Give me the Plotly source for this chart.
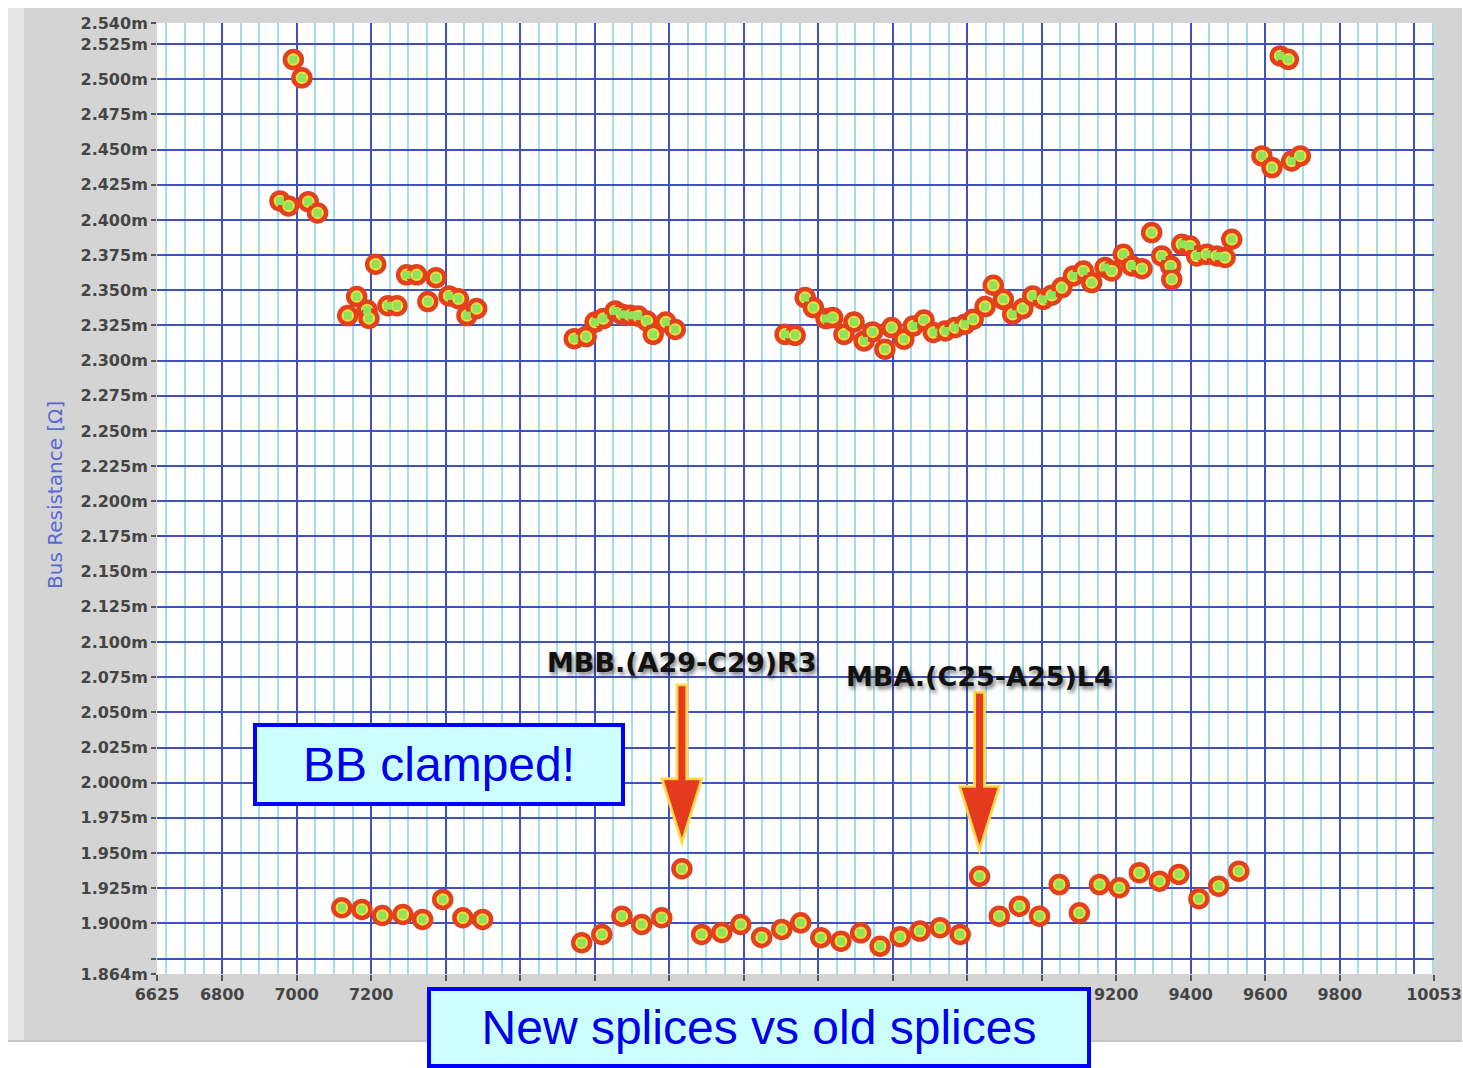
import plotly.graph_objects as go

# ---------------- data ----------------
# upper band: splice resistance, old measurements
upper_x = [6955, 6978, 6991, 7014, 7031, 7056, 7137, 7161, 7189, 7194, 7212, 7245, 7269,
           7295, 7322, 7352, 7374, 7409, 7434, 7457, 7483,
           7745, 7777, 7801, 7823, 7855, 7873, 7895, 7917, 7940, 7957, 7991, 8016,
           8311, 8338, 8365, 8387, 8421, 8439, 8469, 8496, 8523, 8546, 8579, 8597,
           8630, 8655, 8684, 8709, 8741, 8767, 8794, 8816, 8848, 8870, 8897, 8922,
           8949, 8976, 9004, 9027, 9054, 9085, 9112, 9134, 9170, 9188, 9219, 9242,
           9269, 9295, 9322, 9346, 9349, 9376, 9398, 9416, 9443, 9470, 9492, 9510,
           9591, 9618, 9640, 9662, 9671, 9694]
upper_y = [2.4135, 2.4100, 2.5140, 2.5010, 2.4130, 2.4050, 2.3320, 2.3455, 2.3360, 2.3300, 2.3685, 2.3390, 2.3390,
           2.3610, 2.3610, 2.3420, 2.3590, 2.3460, 2.3440, 2.3320, 2.3370,
           2.3156, 2.3171, 2.3274, 2.3299, 2.3353, 2.3329, 2.3322, 2.3317, 2.3282, 2.3187, 2.3274, 2.3222,
           2.3187, 2.3180, 2.3448, 2.3377, 2.3299, 2.3306, 2.3187, 2.3275, 2.3140, 2.3204, 2.3081, 2.3235,
           2.3152, 2.3246, 2.3289, 2.3200, 2.3211, 2.3235, 2.3259, 2.3294, 2.3384, 2.3536, 2.3436, 2.3330,
           2.3370, 2.3460, 2.3436, 2.3465, 2.3519, 2.3602, 2.3637, 2.3555, 2.3662, 2.3637, 2.3756, 2.3673,
           2.3654, 2.3910, 2.3744, 2.3673, 2.3578, 2.3827, 2.3815, 2.3744, 2.3756, 2.3744, 2.3733, 2.3863,
           2.4455, 2.4372, 2.5166, 2.5142, 2.4419, 2.4455]

# lower band: bus resistance with the busbar clamped
lower_x = [7121, 7175, 7230, 7285, 7338, 7392, 7446, 7499,
           7765, 7819, 7873, 7926, 7980, 8034, 8087, 8141, 8192, 8248, 8302, 8353,
           8407, 8461, 8514, 8566, 8620, 8673, 8727, 8781, 8833, 8886, 8940, 8994,
           9047, 9101, 9155, 9208, 9262, 9316, 9368, 9422, 9475, 9529]
lower_y = [1.9111, 1.9099, 1.9056, 1.9063, 1.9028, 1.9170, 1.9040, 1.9028,
           1.8862, 1.8921, 1.9051, 1.8992, 1.9040, 1.9388, 1.8921, 1.8935, 1.8992, 1.8900, 1.8957, 1.9004,
           1.8898, 1.8873, 1.8933, 1.8838, 1.8905, 1.8945, 1.8969, 1.8921, 1.9335, 1.9051, 1.9122, 1.9051,
           1.9276, 1.9075, 1.9276, 1.9253, 1.9360, 1.9300, 1.9348, 1.9175, 1.9264, 1.9371]

# highlighted splices
flag_x = [8034, 8833]
flag_y = [1.9388, 1.9335]
flag_labels = ["MBB.(A29-C29)R3", "MBA.(C25-A25)L4"]

# tick labels 7400..9000 are hidden behind the caption box in the original
x_tick_vals = [6625, 6800, 7000, 7200, 7400, 7600, 7800, 8000, 8200, 8400, 8600,
               8800, 9000, 9200, 9400, 9600, 9800, 10053]
x_tick_text = ["6625", "6800", "7000", "7200", "", "", "", "", "", "", "",
               "", "", "9200", "9400", "9600", "9800", "10053"]
y_tick_vals = [1.864, 1.875, 1.900, 1.925, 1.950, 1.975, 2.000, 2.025, 2.050, 2.075, 2.100,
               2.125, 2.150, 2.175, 2.200, 2.225, 2.250, 2.275, 2.300, 2.325, 2.350,
               2.375, 2.400, 2.425, 2.450, 2.475, 2.500, 2.525, 2.540]
y_tick_text = ["1.864m", "", "1.900m", "1.925m", "1.950m", "1.975m", "2.000m", "2.025m", "2.050m",
               "2.075m", "2.100m", "2.125m", "2.150m", "2.175m", "2.200m", "2.225m", "2.250m",
               "2.275m", "2.300m", "2.325m", "2.350m", "2.375m", "2.400m", "2.425m", "2.450m",
               "2.475m", "2.500m", "2.525m", "2.540m"]

X_RANGE = [6625, 10053]
Y_RANGE = [1.864, 2.540]

# ---------------- figure ----------------
W, H = 1463, 1068
ML, MR, MT, MB = 157, 29, 23, 94
PW, PH = W - ML - MR, H - MT - MB


def px(xp):
    return (xp - ML) / PW


def py(yp):
    return (H - MB - yp) / PH


fig = go.Figure()

ring = dict(symbol="circle", size=17, color="#f3df3c", line=dict(color="#e3401d", width=4.5))
core = dict(symbol="square", size=8, color="#8fe35a", line=dict(width=0))

for xs, ys, name in [(upper_x, upper_y, "old"), (lower_x, lower_y, "new")]:
    fig.add_trace(go.Scatter(x=xs, y=ys, mode="markers", marker=ring, name=name,
                             showlegend=False, xaxis="x", yaxis="y"))
for xs, ys, name in [(upper_x, upper_y, "old"), (lower_x, lower_y, "new")]:
    fig.add_trace(go.Scatter(x=xs, y=ys, mode="markers", marker=core, name=name,
                             showlegend=False, xaxis="x2", yaxis="y", hoverinfo="skip"))

tick_font = dict(family="DejaVu Sans", size=16, color="#454545", weight="bold")
major_grid = "#3e50c2"
minor_grid = "#a3dcee"

fig.update_layout(
    template="none",
    width=W, height=H, autosize=False,
    margin=dict(l=ML, r=MR, t=MT, b=MB, pad=0, autoexpand=False),
    paper_bgcolor="white", plot_bgcolor="white",
    showlegend=False,
    xaxis=dict(range=X_RANGE, tickmode="linear", tick0=0, dtick=200, automargin=False,
               showticklabels=False, ticks="", showgrid=True, gridcolor=major_grid, gridwidth=1.6,
               minor=dict(tickmode="linear", tick0=0, dtick=50, showgrid=True,
                          gridcolor=minor_grid, gridwidth=2),
               zeroline=False, showline=False, fixedrange=True),
    xaxis2=dict(range=X_RANGE, overlaying="x", side="bottom", anchor="y", automargin=False,
                tickmode="array", tickvals=x_tick_vals, ticktext=x_tick_text,
                ticks="outside", ticklen=6, tickwidth=2, tickcolor="#555555",
                tickfont=tick_font, showgrid=False, zeroline=False, showline=False, fixedrange=True),
    yaxis=dict(range=Y_RANGE, tickmode="array", tickvals=y_tick_vals, ticktext=y_tick_text,
               automargin=False,
               ticks="outside", ticklen=5, tickwidth=2, tickcolor="#555555",
               tickfont=tick_font, showgrid=True, gridcolor=major_grid, gridwidth=1.6,
               zeroline=False, showline=False, fixedrange=True),
)

# grey instrument panel around the plot area
panel = "#d4d4d4"
L, R, T, B = px(8), px(1462), py(8), py(1040)
shapes = [
    dict(type="rect", xref="paper", yref="paper", x0=L, x1=0, y0=B, y1=T, fillcolor=panel, line_width=0, layer="below"),
    dict(type="rect", xref="paper", yref="paper", x0=1, x1=R, y0=B, y1=T, fillcolor=panel, line_width=0, layer="below"),
    dict(type="rect", xref="paper", yref="paper", x0=0, x1=1, y0=1, y1=T, fillcolor=panel, line_width=0, layer="below"),
    dict(type="rect", xref="paper", yref="paper", x0=0, x1=1, y0=B, y1=0, fillcolor=panel, line_width=0, layer="below"),
    dict(type="rect", xref="paper", yref="paper", x0=L, x1=px(24), y0=B, y1=T, fillcolor="#e4e4e4", line_width=0, layer="below"),
    dict(type="rect", xref="paper", yref="paper", x0=L, x1=R, y0=py(1042), y1=B, fillcolor="#c4c4c4", line_width=0, layer="below"),
]

# red arrows pointing at the highlighted splices (pixel offsets from the data point)
arrow_path = "M 0 26 L -20 90 L -5 90 L -5 184 L 5 184 L 5 90 L 20 90 Z"
for fx, fy in zip(flag_x, flag_y):
    shapes.append(dict(type="path", xref="x", yref="y", xsizemode="pixel", ysizemode="pixel",
                       xanchor=fx, yanchor=fy, path=arrow_path,
                       fillcolor="#e43b1e", line=dict(color="rgba(255,222,80,0.9)", width=3),
                       layer="above"))
fig.update_layout(shapes=shapes)

annotations = [
    dict(text="Bus Resistance [Ω]", xref="paper", yref="paper", x=px(55), y=py(495),
         textangle=-90, showarrow=False, xanchor="center", yanchor="middle",
         font=dict(family="DejaVu Sans", size=20, color="#5a68d6")),
    dict(text="BB clamped!", xref="paper", yref="paper", x=px(439), y=py(764.5),
         showarrow=False, xanchor="center", yanchor="middle", width=364, height=75,
         bgcolor="#ccffff", bordercolor="#0000ff", borderwidth=4, borderpad=0,
         font=dict(family="Liberation Sans, Arial", size=48, color="#0000ee")),
    dict(text="New splices vs old splices", xref="paper", yref="paper", x=px(759), y=py(1027.5),
         showarrow=False, xanchor="center", yanchor="middle", width=656, height=73,
         bgcolor="#ccffff", bordercolor="#0000ff", borderwidth=4, borderpad=0,
         font=dict(family="Liberation Sans, Arial", size=48, color="#0000ee")),
]
for fx, fy, lab, shift in zip(flag_x, flag_y, flag_labels, [206, 200]):
    annotations.append(dict(text=lab, xref="x", yref="y", x=fx, y=fy, yshift=shift,
                            showarrow=False, xanchor="center", yanchor="middle",
                            font=dict(family="DejaVu Sans", size=27, color="#111111", weight="bold",
                                      shadow="2px 3px 4px rgba(0,0,0,0.55)")))
fig.update_layout(annotations=annotations)

fig.write_html("out.html", config={"displayModeBar": False},
               post_script="document.body.style.margin='0px';document.body.style.overflow='hidden';")
